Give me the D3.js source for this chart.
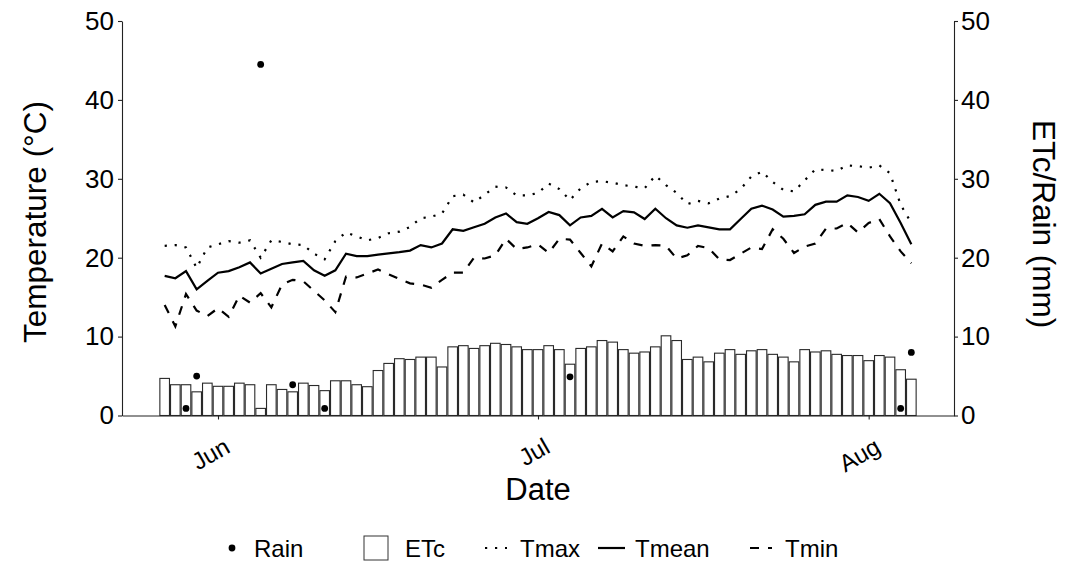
<!DOCTYPE html>
<html>
<head>
<meta charset="utf-8">
<script src="https://cdn.jsdelivr.net/npm/d3@7"></script>
<style>
  body { margin: 0; background: #fff; }
  svg text { font-family: "Liberation Sans", Arial, sans-serif; fill: #000; }
</style>
</head>
<body>
<svg id="chart" width="1077" height="566"></svg>
<script>
// --- Data ---
const firstDay = "2021-05-27";   // one value per day from here on

const etcVals = [4.7, 3.9, 3.9, 3.0, 4.1, 3.7, 3.7, 4.1, 3.9, 0.9,
  3.9, 3.3, 3.0, 4.1, 3.8, 3.15, 4.4, 4.4, 3.9, 3.65,
  5.7, 6.6, 7.2, 7.1, 7.4, 7.4, 6.15, 8.7, 8.85, 8.5,
  8.85, 9.15, 9.0, 8.7, 8.35, 8.35, 8.85, 8.35, 6.5, 8.5,
  8.7, 9.5, 9.3, 8.35, 7.9, 8.05, 8.7, 10.1, 9.5, 7.1,
  7.4, 6.8, 7.9, 8.35, 7.75, 8.2, 8.35, 7.75, 7.4, 6.8,
  8.35, 8.05, 8.2, 7.75, 7.6, 7.6, 6.95, 7.6, 7.4, 5.8, 4.6];

const tmaxVals = [21.5, 21.6, 21.3, 18.7, 21.3, 21.7, 22.1, 21.9, 22.2, 20.0,
  22.2, 22.0, 21.7, 21.6, 20.5, 19.8, 22.1, 23.2, 22.7, 22.2,
  22.5, 23.1, 23.3, 23.9, 25.0, 25.2, 25.6, 27.8, 28.0, 27.0,
  28.0, 29.0, 28.9, 27.9, 27.9, 28.2, 29.4, 28.7, 27.3, 28.8,
  29.6, 29.7, 29.5, 29.2, 29.0, 28.8, 30.4, 29.2, 28.2, 26.8,
  27.2, 26.9, 27.5, 27.8, 28.7, 30.3, 30.9, 29.6, 28.6, 28.4,
  29.8, 31.2, 31.1, 31.0, 31.7, 31.6, 31.4, 31.7, 30.7, 26.7, 24.4];

const tmeanVals = [17.7, 17.4, 18.3, 16.0, 17.05, 18.1, 18.3, 18.8, 19.4, 18.0,
  18.6, 19.2, 19.4, 19.6, 18.4, 17.7, 18.4, 20.5, 20.2, 20.2,
  20.4, 20.55, 20.7, 20.9, 21.6, 21.3, 21.8, 23.6, 23.4, 23.85,
  24.3, 25.1, 25.6, 24.5, 24.3, 25.0, 25.8, 25.4, 24.1, 25.1,
  25.3, 26.2, 25.1, 25.9, 25.75, 24.9, 26.2, 25.0, 24.1, 23.8,
  24.1, 23.85, 23.6, 23.6, 24.9, 26.2, 26.6, 26.1, 25.2, 25.3,
  25.5, 26.7, 27.1, 27.1, 27.9, 27.7, 27.2, 28.1, 26.9, 24.4, 21.7];

const tminVals = [14.0, 11.3, 15.4, 13.3, 12.6, 13.6, 12.5, 15.2, 14.3, 15.5,
  13.7, 16.6, 17.2, 17.0, 15.8, 14.6, 13.1, 17.6, 17.5, 18.0,
  18.5, 17.9, 17.3, 16.75, 16.6, 16.2, 17.2, 18.1, 18.1, 20.0,
  19.9, 20.3, 22.4, 21.1, 21.3, 21.7, 20.6, 22.4, 22.3, 20.6,
  18.9, 21.8, 20.8, 22.7, 21.8, 21.5, 21.6, 21.5, 19.9, 20.3,
  21.5, 21.2, 19.8, 19.7, 20.5, 21.3, 21.1, 23.6, 22.4, 20.6,
  21.4, 21.8, 23.7, 23.7, 24.4, 23.2, 24.4, 24.9, 22.7, 20.8, 19.3];

const rainDates = ["2021-05-29", "2021-05-30", "2021-06-05", "2021-06-08",
  "2021-06-11", "2021-07-04", "2021-08-04", "2021-08-05"];
const rainVals = [0.9, 5.0, 44.5, 3.9, 0.9, 4.9, 0.9, 8.0];

const monthTicks = ["2021-06-01", "2021-07-01", "2021-08-01"];
const yTicks = [0, 10, 20, 30, 40, 50];

// --- Setup ---
const parse = d3.utcParse("%Y-%m-%d");
const start = parse(firstDay);
const days = etcVals.map((v, i) => d3.utcDay.offset(start, i));

const padL = 122, padR = 954, plotTop = 21, plotBottom = 415.5;
const x = d3.scaleUtc()
  .domain([d3.utcDay.offset(start, -4), d3.utcDay.offset(start, 74)])
  .range([padL, padR]);
const y = d3.scaleLinear().domain([0, 50]).range([plotBottom, plotTop]);
const dayW = x(d3.utcDay.offset(start, 1)) - x(start);

const svg = d3.select("#chart");

// bars (ETc)
svg.append("g").selectAll("rect").data(etcVals).join("rect")
  .attr("x", (d, i) => x(days[i]) - dayW * 0.45)
  .attr("width", dayW * 0.9)
  .attr("y", d => y(d))
  .attr("height", d => plotBottom - y(d))
  .attr("fill", "#fff").attr("stroke", "#2a2a2a").attr("stroke-width", 1.1);

// temperature lines
const line = vals => d3.line().x((d, i) => x(days[i])).y(d => y(d))(vals);
const lineStyles = [
  { vals: tmaxVals, dash: "2.2,7.8" },
  { vals: tmeanVals, dash: null },
  { vals: tminVals, dash: "9,9" }
];
lineStyles.forEach(s => {
  svg.append("path").attr("d", line(s.vals))
    .attr("fill", "none").attr("stroke", "#000").attr("stroke-width", 2.2)
    .attr("stroke-dasharray", s.dash);
});

// rain points
svg.append("g").selectAll("circle").data(rainVals).join("circle")
  .attr("cx", (d, i) => x(parse(rainDates[i])))
  .attr("cy", d => y(d))
  .attr("r", 3.4).attr("fill", "#000");

// --- Axes ---
function styleAxis(g, size) {
  g.selectAll(".domain, line").attr("stroke", "#222").attr("stroke-width", 1.1);
  g.selectAll("text").attr("font-size", size).attr("fill", "#000")
    .style("font-family", '"Liberation Sans", Arial, sans-serif');
}
svg.append("g").attr("transform", `translate(${padL},0)`)
  .call(d3.axisLeft(y).tickValues(yTicks).tickSize(4).tickSizeOuter(0).tickPadding(4))
  .call(styleAxis, 26);
svg.append("g").attr("transform", `translate(${padR},0)`)
  .call(d3.axisRight(y).tickValues(yTicks).tickSize(4).tickSizeOuter(0).tickPadding(3))
  .call(styleAxis, 26);
const xAxis = svg.append("g").attr("transform", `translate(0,${plotBottom})`)
  .call(d3.axisBottom(x).tickValues(monthTicks.map(parse)).tickFormat(d3.utcFormat("%b"))
    .tickSize(4).tickSizeOuter(0))
  .call(styleAxis, 24);
xAxis.selectAll("text")
  .attr("text-anchor", "end").attr("dy", null).attr("y", null)
  .attr("transform", "translate(13,36) rotate(-30)");

// axis titles
svg.append("text").attr("transform", "translate(46,222) rotate(-90)")
  .attr("text-anchor", "middle").attr("font-size", 31.5).text("Temperature (°C)");
svg.append("text").attr("transform", "translate(1033,224) rotate(90)")
  .attr("text-anchor", "middle").attr("font-size", 31.5).text("ETc/Rain (mm)");
svg.append("text").attr("x", (padL + padR) / 2).attr("y", 500)
  .attr("text-anchor", "middle").attr("font-size", 31).text("Date");

// --- Legend ---
const ly = 548;
const lg = svg.append("g");
lg.append("circle").attr("cx", 232).attr("cy", ly).attr("r", 3.4).attr("fill", "#000");
lg.append("rect").attr("x", 364).attr("y", ly - 12).attr("width", 24).attr("height", 24)
  .attr("fill", "#fff").attr("stroke", "#333").attr("stroke-width", 1);
[[485, 507, "2.2,7.8"], [598, 625, null], [750, 772, "9,9"]].forEach(([a, b, dash]) => {
  lg.append("line").attr("x1", a).attr("x2", b).attr("y1", ly).attr("y2", ly)
    .attr("stroke", "#000").attr("stroke-width", 2.2).attr("stroke-dasharray", dash);
});
const legendLabels = ["Rain", "ETc", "Tmax", "Tmean", "Tmin"];
const legendX = [254, 405, 520, 635, 785];
lg.selectAll("text.lab").data(legendLabels).join("text").attr("class", "lab")
  .attr("x", (d, i) => legendX[i]).attr("y", ly + 8.5)
  .attr("font-size", 24).text(d => d);
</script>
</body>
</html>
